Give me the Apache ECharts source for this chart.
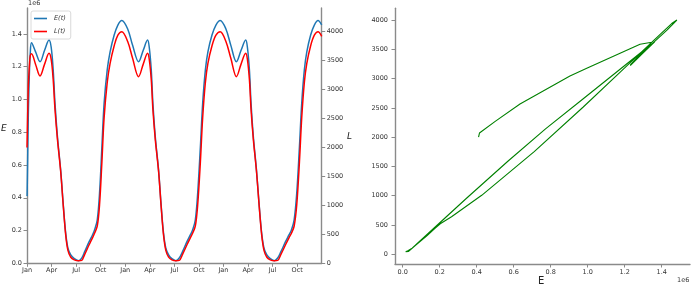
<!DOCTYPE html>
<html>
<head>
<meta charset="utf-8">
<script src="https://cdn.jsdelivr.net/npm/echarts@6/dist/echarts.min.js"></script>
<style>
html,body{margin:0;padding:0;background:#fff;}
#c{width:691px;height:286px;}
</style>
</head>
<body>
<div id="c"></div>
<script>
// time in months since Jan of year 1
const t = [0, 0.01, 0.04, 0.08, 0.16, 0.2, 0.3, 0.4, 0.55, 1.05, 1.59, 2.15, 2.69,
  2.95, 3.20, 3.42, 3.72, 4.11, 4.45, 4.73, 5.00, 5.35, 5.78, 6.28, 6.68, 7.05, 7.59, 8.00, 8.25, 8.58, 8.86, 9.15, 9.42, 9.80, 10.15, 10.65, 11.10, 11.58,
  12.30, 12.90, 13.63, 14.20, 14.73,
  14.93, 15.18, 15.38, 15.67, 16.07, 16.40, 16.68, 16.96, 17.30, 17.70, 18.19, 18.60, 19.00, 19.54, 19.95, 20.23, 20.56, 20.85, 21.18, 21.46, 21.79, 22.10, 22.60, 23.08, 23.60,
  24.30, 24.90, 25.58, 26.15, 26.72,
  26.92, 27.17, 27.37, 27.65, 28.03, 28.38, 28.67, 28.95, 29.30, 29.72, 30.20, 30.62, 31.02, 31.58, 32.00, 32.30, 32.63, 32.95, 33.28, 33.56, 33.88, 34.18, 34.65, 35.10, 35.55, 36.00];
// E(t), in units of 1e6
const E = [0.41, 0.415, 0.5, 0.634, 0.904, 0.995, 1.175, 1.283, 1.346, 1.29, 1.23, 1.30, 1.362,
  1.32, 1.18, 0.976, 0.772, 0.57, 0.345, 0.183, 0.092, 0.051, 0.028, 0.016, 0.032, 0.071, 0.132, 0.173, 0.203, 0.264, 0.427, 0.711, 0.976, 1.18, 1.29, 1.393, 1.454, 1.482,
  1.43, 1.33, 1.23, 1.30, 1.362,
  1.32, 1.18, 0.976, 0.772, 0.57, 0.345, 0.183, 0.092, 0.051, 0.028, 0.016, 0.032, 0.071, 0.132, 0.173, 0.203, 0.264, 0.427, 0.711, 0.976, 1.18, 1.29, 1.393, 1.454, 1.482,
  1.43, 1.33, 1.23, 1.30, 1.362,
  1.32, 1.18, 0.976, 0.772, 0.57, 0.345, 0.183, 0.092, 0.051, 0.028, 0.016, 0.032, 0.071, 0.132, 0.173, 0.203, 0.264, 0.427, 0.711, 0.976, 1.18, 1.29, 1.393, 1.454, 1.482, 1.455];
// L(t)
const L = [2000, 2070, 2270, 2565, 3044, 3175, 3431, 3585, 3619, 3434, 3235, 3440, 3627,
  3526, 3172, 2656, 2141, 1593, 957, 487, 224, 105, 60, 44, 50, 155, 320, 440, 520, 640, 1007, 1752, 2515, 3123, 3451, 3758, 3940, 4000,
  3830, 3540, 3223, 3440, 3627,
  3526, 3172, 2656, 2141, 1593, 957, 487, 224, 105, 60, 44, 50, 155, 320, 440, 520, 640, 1007, 1752, 2515, 3123, 3451, 3758, 3940, 4000,
  3830, 3540, 3223, 3440, 3627,
  3526, 3172, 2656, 2141, 1593, 957, 487, 224, 105, 60, 44, 50, 155, 320, 440, 520, 640, 1007, 1752, 2515, 3123, 3451, 3758, 3940, 4000, 3920];

const monthNames = ['Jan', 'Apr', 'Jul', 'Oct'];
const monthTicks = [0, 3, 6, 9, 12, 15, 18, 21, 24, 27, 30, 33];
const eTicks = [0, 0.2, 0.4, 0.6, 0.8, 1.0, 1.2, 1.4];
const lTicks = [0, 500, 1000, 1500, 2000, 2500, 3000, 3500, 4000];

const FONT = 'DejaVu Sans';
const AX = '#8a8a8a';
const LBL = '#333';

function axisBase(ticks, fmt, margin) {
  return {
    axisLine: {show: true, onZero: false, lineStyle: {color: AX, width: 1.4}},
    axisTick: {show: true, length: 3.5, customValues: ticks, lineStyle: {color: AX, width: 1}},
    axisLabel: {show: true, customValues: ticks, formatter: fmt, margin: margin,
      fontFamily: FONT, fontSize: 6.5, color: LBL},
    splitLine: {show: false}
  };
}

const chart = echarts.init(document.getElementById('c'), null, {renderer: 'canvas'});
chart.setOption({
  animation: false,
  backgroundColor: '#fff',
  grid: [
    {left: 27, top: 8, width: 294.7, height: 255.3},
    {left: 395, top: 8.3, width: 295, height: 255.7}
  ],
  xAxis: [
    Object.assign({type: 'value', gridIndex: 0, min: 0, max: 36},
      axisBase(monthTicks, v => monthNames[Math.round(v / 3) % 4], 4)),
    Object.assign({type: 'value', gridIndex: 1, min: -0.0416, max: 1.553},
      axisBase(eTicks, v => v.toFixed(1), 5))
  ],
  yAxis: [
    Object.assign({type: 'value', gridIndex: 0, min: 0, max: 1.558, position: 'left'},
      axisBase(eTicks, v => v.toFixed(1), 5)),
    Object.assign({type: 'value', gridIndex: 0, min: 0, max: 4409, position: 'right'},
      axisBase(lTicks, v => String(Math.round(v)), 5)),
    Object.assign({type: 'value', gridIndex: 1, min: -166, max: 4200, position: 'left'},
      axisBase(lTicks, v => String(Math.round(v)), 7))
  ],
  legend: {
    orient: 'vertical', left: 31, top: 11,
    data: ['E(t)', 'L(t)'],
    icon: 'rect', itemWidth: 13, itemHeight: 1.6, itemGap: 6,
    padding: [4, 5, 4, 3],
    backgroundColor: '#fff', borderColor: '#d0d0d0', borderWidth: 0.8, borderRadius: 2,
    textStyle: {fontFamily: FONT, fontSize: 6.5, fontStyle: 'italic', color: LBL, padding: [0, 0, 0, 2]}
  },
  series: [
    {name: 'E(t)', type: 'line', xAxisIndex: 0, yAxisIndex: 0, showSymbol: false, symbol: 'none',
      smooth: 0.35, lineStyle: {color: '#1f77b4', width: 1.5}, itemStyle: {color: '#1f77b4'},
      data: t.map((x, i) => [x, E[i]]), z: 2},
    {name: 'L(t)', type: 'line', xAxisIndex: 0, yAxisIndex: 1, showSymbol: false, symbol: 'none',
      smooth: 0.35, lineStyle: {color: '#ff0000', width: 1.5}, itemStyle: {color: '#ff0000'},
      data: t.map((x, i) => [x, L[i]]), z: 3},
    {name: 'L(E)', type: 'line', xAxisIndex: 1, yAxisIndex: 2, showSymbol: false, symbol: 'none',
      smooth: false, lineStyle: {color: '#008000', width: 1.1}, itemStyle: {color: '#008000'},
      data: E.map((e, i) => [e, L[i]])}
  ],
  graphic: [
    {type: 'text', left: 28, top: 0, style: {text: '1e6', font: '6.5px "DejaVu Sans"', fill: LBL}},
    {type: 'text', left: 1, top: 124, style: {text: 'E', font: 'italic 9px "DejaVu Sans"', fill: '#222'}},
    {type: 'text', left: 347, top: 132, style: {text: 'L', font: 'italic 9px "DejaVu Sans"', fill: '#222'}},
    {type: 'text', left: 538, top: 276, style: {text: 'E', font: '10px "DejaVu Sans"', fill: '#222'}},
    {type: 'text', left: 677, top: 277, style: {text: '1e6', font: '6.5px "DejaVu Sans"', fill: LBL}}
  ]
});
</script>
</body>
</html>
